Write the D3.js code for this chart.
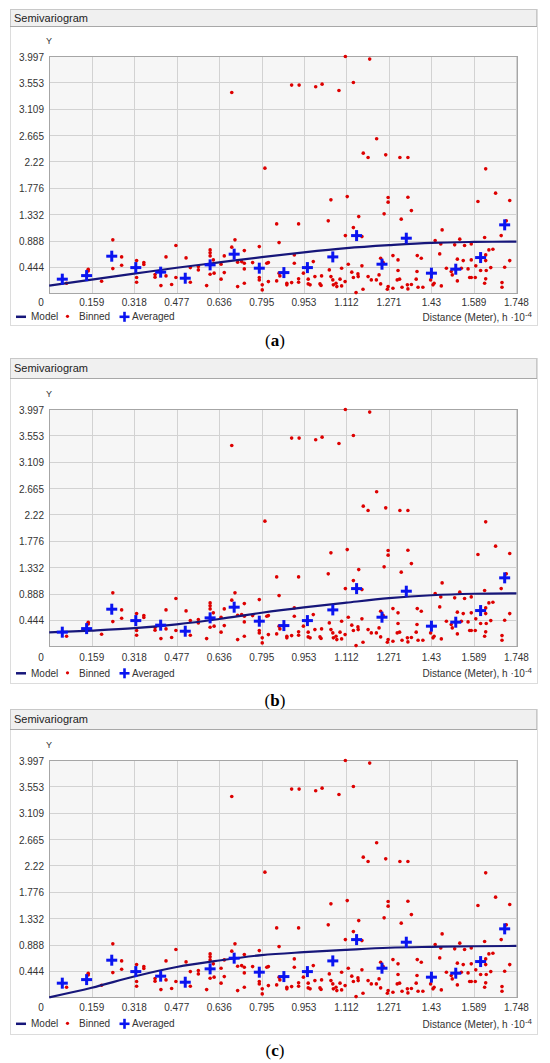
<!DOCTYPE html>
<html>
<head>
<meta charset="utf-8" />
<script src="https://d3js.org/d3.v7.min.js"></script>
<style>
  body { margin: 0; background: #fff; }
  svg text { font-family: "Liberation Sans", Arial, sans-serif; fill: #333; }
  .tick-label { font-size: 10px; }
  .title { font-size: 11px; fill: #222; }
  .panel-label { font-family: "Liberation Serif", "DejaVu Serif", serif; font-size: 17px; fill: #000; }
</style>
</head>
<body>
<svg id="chart" width="550" height="1063"></svg>
<script>

// ---- data ----
var xTicks = [0.159, 0.318, 0.477, 0.636, 0.795, 0.953, 1.112, 1.271, 1.43, 1.589, 1.748];
var yTicks = [0.444, 0.888, 1.332, 1.776, 2.22, 2.665, 3.109, 3.553, 3.997];

// binned semivariogram cloud (distance, gamma)
var binned = [
  [0.683,3.382],[0.807,2.108],[0.907,3.507],[0.935,3.507],[0.997,3.478],[1.021,3.523],
  [1.084,3.416],[1.108,3.988],[1.138,3.550],[1.199,3.945],[1.225,2.602],[1.175,2.361],
  [1.193,2.287],[1.259,2.332],[1.312,2.287],[1.342,2.287],[1.633,2.096],
  [0.065,0.170],[0.146,0.406],[0.146,0.377],[0.196,0.204],[0.238,0.900],[0.238,0.416],
  [0.271,0.613],[0.271,0.473],[0.327,0.551],[0.327,0.265],[0.327,0.187],[0.354,0.517],
  [0.354,0.484],[0.396,0.315],[0.396,0.271],[0.437,0.613],[0.437,0.293],[0.418,0.130],
  [0.458,0.147],[0.474,0.804],[0.474,0.265],[0.512,0.596],[0.528,0.433],[0.528,0.187],
  [0.558,0.450],[0.558,0.394],
  [0.602,0.731],[0.602,0.681],[0.602,0.630],[0.614,0.563],[0.602,0.322],[0.617,0.339],
  [0.589,0.130],[0.643,0.490],[0.643,0.238],[0.655,0.630],[0.655,0.349],[0.683,0.777],
  [0.695,0.900],[0.705,0.524],[0.705,0.113],[0.720,0.534],[0.730,0.719],[0.730,0.507],
  [0.730,0.411],[0.730,0.170],[0.761,0.517],[0.786,0.787],[0.786,0.265],[0.786,0.226],
  [0.797,0.142],[0.797,0.057],[0.814,0.507],[0.820,0.517],[0.820,0.197],[0.851,1.169],
  [0.860,0.854],[0.860,0.339],[0.851,0.209],[0.863,0.293],[0.889,0.170],[0.889,0.142],
  [0.907,0.180],[0.917,0.647],[0.917,0.507],[0.933,1.169],[0.933,0.243],[0.933,0.187],
  [0.951,0.339],[0.969,0.238],[0.969,0.158],[0.976,0.142],[0.988,0.534],[0.994,0.281],
  [1.013,0.158],[1.017,0.133],[1.019,0.293],[1.044,1.220],[1.054,1.574],[1.048,0.394],
  [1.054,0.281],[1.061,0.226],[1.063,0.142],[1.073,0.170],[1.076,0.113],[1.088,0.238],
  [1.094,0.423],[1.094,0.125],[1.107,0.197],[1.108,0.972],[1.115,1.629],[1.119,0.490],
  [1.132,0.356],[1.138,1.107],[1.138,0.265],[1.148,0.012],[1.158,1.292],[1.156,0.281],
  [1.268,1.613],[1.268,1.535],[1.342,1.619],[1.253,1.338],[1.355,1.393],[1.317,1.249],
  [1.670,1.687],[1.604,1.545],[1.723,1.562],[1.470,1.068],[1.444,0.888],[1.465,0.832],
  [1.536,0.912],[1.517,0.816],[1.554,0.804],[1.579,0.832],[1.629,0.939],[1.691,0.972],
  [1.710,1.220],[1.170,0.955],[1.286,0.635],[1.240,0.591],[1.249,0.524],[1.305,0.563],
  [1.377,0.635],[1.392,0.591],[1.461,0.664],[1.527,0.575],[1.549,0.551],[1.579,0.563],
  [1.633,0.647],[1.645,0.731],[1.660,0.743],[1.633,0.551],[1.723,0.551],[1.596,0.462],
  [1.614,0.383],[1.635,0.383],[1.652,0.433],[1.704,0.440],[1.170,0.462],[1.155,0.327],
  [1.193,0.281],[1.205,0.226],[1.224,0.226],[1.234,0.310],[1.240,0.158],[1.174,0.069],
  [1.268,0.113],[1.265,0.069],[1.286,0.086],[1.305,0.383],[1.302,0.226],[1.311,0.238],
  [1.320,0.103],[1.340,0.142],[1.342,0.074],[1.355,0.147],[1.373,0.238],[1.376,0.366],
  [1.380,0.103],[1.398,0.103],[1.436,0.142],[1.440,0.170],[1.427,0.226],[1.467,0.125],
  [1.486,0.423],[1.504,0.366],[1.508,0.310],[1.527,0.209],[1.542,0.423],[1.567,0.411],
  [1.573,0.265],[1.579,0.265],[1.594,0.265],[1.633,0.243],[1.629,0.170],[1.694,0.180],
  [1.694,0.103]
];

// averaged values
var averaged = [
  [0.049,0.238],[0.140,0.298],[0.234,0.625],[0.324,0.433],[0.417,0.356],[0.509,0.254],
  [0.602,0.479],[0.692,0.659],[0.786,0.423],[0.878,0.349],[0.966,0.433],[1.061,0.613],
  [1.150,0.972],[1.245,0.490],[1.336,0.928],[1.430,0.339],[1.521,0.406],[1.614,0.602],
  [1.704,1.153]
];

// model curves read at the tick distances
var modelX = [0, 0.159, 0.318, 0.477, 0.636, 0.795, 0.953, 1.112, 1.271, 1.43, 1.589, 1.748];
var modelA = [0.13, 0.23, 0.33, 0.43, 0.52, 0.61, 0.69, 0.76, 0.81, 0.85, 0.865, 0.87];
var modelB = [0.235, 0.265, 0.305, 0.37, 0.46, 0.565, 0.655, 0.735, 0.81, 0.86, 0.885, 0.893];
var modelC = [0.0, 0.16, 0.35, 0.51, 0.62, 0.71, 0.76, 0.80, 0.835, 0.85, 0.86, 0.865];

var panelNames = ["a", "b", "c"];
var models = [modelA, modelB, modelC];

// ---- layout ----
var layout = [
  { top: 56,  titleY: 9,   titleH: 17, frameB: 325,  tickDy: 12.2, legendDy: 27, labelY: 346 },
  { top: 409, titleY: 358, titleH: 20, frameB: 683,  tickDy: 14.2, legendDy: 30.5, labelY: 706 },
  { top: 760, titleY: 709, titleH: 20, frameB: 1034, tickDy: 13.5, legendDy: 30, labelY: 1056 }
];
var plotH = 237.3;
var frameL = 10, frameR = 537;

var svg = d3.select("#chart");

var x = d3.scaleLinear().domain([0, 1.749]).range([49.2, 516.7]);

panelNames.forEach(function(name, i) {
  var L = layout[i];
  var g = svg.append("g");
  var y = d3.scaleLinear().domain([0, 3.997]).range([L.top + plotH, L.top]);

  // panel frame
  g.append("rect")
    .attr("x", frameL + 0.5).attr("y", L.titleY + 0.5)
    .attr("width", frameR - frameL).attr("height", L.frameB - L.titleY)
    .attr("fill", "#fff").attr("stroke", "#dcdcdc");

  g.append("rect")
    .attr("x", frameL + 0.5).attr("y", L.titleY + 0.5)
    .attr("width", frameR - frameL - 1).attr("height", L.titleH)
    .attr("fill", "#f0f0f0").attr("stroke", "#c8c8c8");
  g.append("line")
    .attr("x1", frameL).attr("x2", frameR)
    .attr("y1", L.titleY + L.titleH + 0.5).attr("y2", L.titleY + L.titleH + 0.5)
    .attr("stroke", "#a8a8a8");
  g.append("text").attr("class", "title")
    .attr("x", 14).attr("y", L.titleY + L.titleH / 2 + 4)
    .text("Semivariogram");

  // plot background
  g.append("rect")
    .attr("x", x(0)).attr("y", y(3.997))
    .attr("width", x(1.749) - x(0)).attr("height", y(0) - y(3.997))
    .attr("fill", "#f6f6f6");

  // grid
  g.selectAll(".vgrid").data(xTicks).enter().append("line")
    .attr("x1", function(d) { return Math.round(x(d)) + 0.5; })
    .attr("x2", function(d) { return Math.round(x(d)) + 0.5; })
    .attr("y1", y(0)).attr("y2", y(3.997))
    .attr("stroke", "#d2d2d2");
  g.selectAll(".hgrid").data(yTicks).enter().append("line")
    .attr("y1", function(d) { return Math.round(y(d)) + 0.5; })
    .attr("y2", function(d) { return Math.round(y(d)) + 0.5; })
    .attr("x1", x(0)).attr("x2", x(1.749))
    .attr("stroke", "#d2d2d2");

  g.append("rect")
    .attr("x", Math.round(x(0)) + 0.5).attr("y", Math.round(y(3.997)) + 0.5)
    .attr("width", Math.round(x(1.749) - x(0))).attr("height", Math.round(y(0) - y(3.997)))
    .attr("fill", "none").attr("stroke", "#a6a6a6");

  // tick labels
  g.selectAll(".xl").data(xTicks).enter().append("text")
    .attr("class", "tick-label")
    .attr("x", function(d) { return x(d); })
    .attr("y", y(0) + L.tickDy)
    .attr("text-anchor", "middle")
    .text(function(d) { return String(d); });
  g.append("text").attr("class", "tick-label")
    .attr("x", 41).attr("y", y(0) + L.tickDy).attr("text-anchor", "middle").text("0");
  g.selectAll(".yl").data(yTicks).enter().append("text")
    .attr("class", "tick-label")
    .attr("x", 44)
    .attr("y", function(d) { return y(d) + 4.5; })
    .attr("text-anchor", "end")
    .text(function(d) { return String(d); });
  g.append("text").attr("class", "tick-label")
    .attr("x", 49).attr("y", L.top - 12).attr("text-anchor", "middle")
    .style("font-size", "9px").text("Y");

  // binned points
  g.selectAll(".bin").data(binned).enter().append("circle")
    .attr("cx", function(d) { return x(d[0]); })
    .attr("cy", function(d) { return y(d[1]); })
    .attr("r", 1.8)
    .attr("fill", "#dd0000");

  // model
  var line = d3.line()
    .x(function(d, k) { return x(modelX[k]); })
    .y(function(d) { return y(d); })
    .curve(d3.curveMonotoneX);
  g.append("path")
    .datum(models[i])
    .attr("d", line)
    .attr("fill", "none")
    .attr("stroke", "#16167a")
    .attr("stroke-width", 2.2);

  // averaged crosses
  var cross = g.selectAll(".avg").data(averaged).enter().append("g")
    .attr("transform", function(d) { return "translate(" + x(d[0]) + "," + y(d[1]) + ")"; });
  cross.append("line").attr("x1", -5.5).attr("x2", 5.5).attr("y1", 0).attr("y2", 0)
    .attr("stroke", "#0a14f0").attr("stroke-width", 3);
  cross.append("line").attr("y1", -5.5).attr("y2", 5.5).attr("x1", 0).attr("x2", 0)
    .attr("stroke", "#0a14f0").attr("stroke-width", 3);

  // legend
  var ly = y(0) + L.legendDy;
  g.append("line").attr("x1", 16).attr("x2", 26).attr("y1", ly - 3.5).attr("y2", ly - 3.5)
    .attr("stroke", "#16167a").attr("stroke-width", 2.5);
  g.append("text").attr("class", "tick-label").attr("x", 31).attr("y", ly).text("Model");
  g.append("circle").attr("cx", 67.5).attr("cy", ly - 4).attr("r", 1.6).attr("fill", "#dd0000");
  g.append("text").attr("class", "tick-label").attr("x", 79).attr("y", ly).text("Binned");
  var lc = g.append("g").attr("transform", "translate(124.5," + (ly - 3.5) + ")");
  lc.append("line").attr("x1", -5).attr("x2", 5).attr("stroke", "#0a14f0").attr("stroke-width", 2.6);
  lc.append("line").attr("y1", -5).attr("y2", 5).attr("stroke", "#0a14f0").attr("stroke-width", 2.6);
  g.append("text").attr("class", "tick-label").attr("x", 132).attr("y", ly).text("Averaged");

  var dist = g.append("text").attr("class", "tick-label")
    .attr("x", 532).attr("y", ly + 0.5).attr("text-anchor", "end");
  dist.append("tspan").text("Distance (Meter), h \u00b710");
  dist.append("tspan").attr("dy", -4).style("font-size", "8px").text("-4");

  // panel letter
  var pl = svg.append("text").attr("class", "panel-label")
    .attr("x", 275).attr("y", L.labelY).attr("text-anchor", "middle");
  pl.append("tspan").text("(");
  pl.append("tspan").style("font-weight", "bold").text(name);
  pl.append("tspan").text(")");
});

</script>
</body>
</html>
